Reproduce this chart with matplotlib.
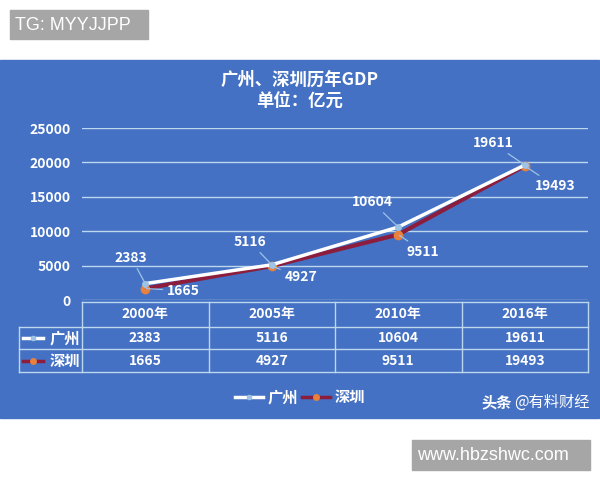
import matplotlib
matplotlib.use('Agg')
import matplotlib.pyplot as plt
from matplotlib.patches import Rectangle
from matplotlib.lines import Line2D

plt.rcParams['font.family'] = ['Noto Sans CJK SC', 'DejaVu Sans']

years = ['2000年', '2005年', '2010年', '2016年']
gz = [2383, 5116, 10604, 19611]
sz = [1665, 4927, 9511, 19493]
names = ['广州', '深圳']
yticks = [0, 5000, 10000, 15000, 20000, 25000]

blue = '#4471c3'
grid = '#bdd7ee'
red = '#8c1d3c'
orange = '#e8803e'
lblue = '#9dc3e6'

fig = plt.figure(figsize=(6, 4.8), dpi=100)

# background layer in pixel coords
bg = fig.add_axes([0, 0, 1, 1], zorder=0)
bg.set_xlim(0, 600)
bg.set_ylim(480, 0)
bg.axis('off')
bg.add_patch(Rectangle((0, 60), 599, 358, color=blue))
bg.add_patch(Rectangle((10, 10), 138, 29, color='#a6a6a6'))
bg.text(15, 25, 'TG: MYYJJPP', color='white', fontsize=13,
        family='Liberation Sans', va='center')
bg.add_patch(Rectangle((412, 440), 178, 30, color='#a6a6a6'))
bg.text(417, 455, 'www.hbzshwc.com', color='white', fontsize=13,
        family='Liberation Sans', va='center')

bg.text(300, 80, '广州、深圳历年GDP', color='white', fontsize=12.5,
        weight='bold', ha='center', va='center')
bg.text(300, 101, '单位：亿元', color='white', fontsize=12.5,
        weight='bold', ha='center', va='center')
bg.text(512, 402, '头条', color='white', fontsize=11, weight='bold',
        ha='right', va='center')
bg.text(590, 402, '@有料财经', color='white', fontsize=11,
        ha='right', va='center')

# data table
tl = dict(color=grid, lw=1)
left, right, colw = 82, 588, 126.5
bg.plot([left, right], [302, 302], **tl)
for y in [327, 349, 372]:
    bg.plot([19, right], [y, y], **tl)
bg.plot([19, 19], [327, 372], **tl)
for i in range(len(years) + 1):
    x = left + i * colw
    bg.plot([x, x], [302, 372], **tl)
for i, yr in enumerate(years):
    x = left + (i + 0.5) * colw
    bg.text(x, 314, yr, color='white', fontsize=10, weight='bold',
            ha='center', va='center')
    bg.text(x, 338, str(gz[i]), color='white', fontsize=10, weight='bold',
            ha='center', va='center')
    bg.text(x, 361, str(sz[i]), color='white', fontsize=10, weight='bold',
            ha='center', va='center')
bg.plot([23, 43], [338, 338], color='white', lw=2.5)
bg.plot([33], [338], 'o', color=lblue, ms=3)
bg.plot([23, 43], [361, 361], color=red, lw=2.5)
bg.plot([33], [361], 'o', color=orange, ms=4)
bg.text(80, 338, names[0], color='white', fontsize=11, weight='bold',
        ha='right', va='center')
bg.text(80, 361, names[1], color='white', fontsize=11, weight='bold',
        ha='right', va='center')

# main chart
ax = fig.add_axes([82 / 600, 180 / 480, 506 / 600, 172 / 480], zorder=1)
ax.patch.set_visible(False)
x = list(range(len(years)))
ax.set_xlim(-0.5, len(years) - 0.5)
ax.set_ylim(0, 25000)
ax.set_yticks(yticks)
ax.set_yticklabels([str(t) for t in yticks], color='white', fontsize=10,
                   weight='bold')
ax.set_xticks([])
ax.tick_params(axis='y', length=0, pad=8)
for s in ax.spines.values():
    s.set_visible(False)
ax.grid(axis='y', color=grid, lw=1)

l_sz, = ax.plot(x, sz, color=red, lw=3, marker='o', ms=6, mfc=orange,
                mec=orange, zorder=3)
l_gz, = ax.plot(x, gz, color='white', lw=2.5, marker='o', ms=4, mfc=lblue,
                mec=lblue, zorder=4)

gz_off = [(-14, 26), (-22, 23), (-26, 25), (-32, 22)]
sz_off = [(38, -2), (29, -11), (25, -17), (30, -20)]
for i in x:
    ax.annotate(str(gz[i]), (i, gz[i]), xytext=gz_off[i],
                textcoords='offset pixels', color='white', fontsize=10,
                weight='bold', ha='center', va='center',
                arrowprops=dict(arrowstyle='-', color=lblue, lw=0.9,
                                shrinkA=1, shrinkB=1), zorder=5)
    ax.annotate(str(sz[i]), (i, sz[i]), xytext=sz_off[i],
                textcoords='offset pixels', color='white', fontsize=10,
                weight='bold', ha='center', va='center',
                arrowprops=dict(arrowstyle='-', color=lblue, lw=0.9,
                                shrinkA=1, shrinkB=1), zorder=5)

h_gz = Line2D([], [], color='white', lw=2.5, marker='o', ms=3, mfc=lblue,
              mec=lblue)
h_sz = Line2D([], [], color=red, lw=2.5, marker='o', ms=4, mfc=orange,
              mec=orange)
leg = fig.legend([h_gz, h_sz], names, loc='center',
                 bbox_to_anchor=(300 / 600, 1 - 397 / 480), ncol=2,
                 frameon=False, handlelength=1.8, handletextpad=0.3,
                 columnspacing=0.3,
                 prop=dict(family=['Noto Sans CJK SC'], size=11, weight='bold'))
for t in leg.get_texts():
    t.set_color('white')

fig.savefig('out.png', dpi=100)
